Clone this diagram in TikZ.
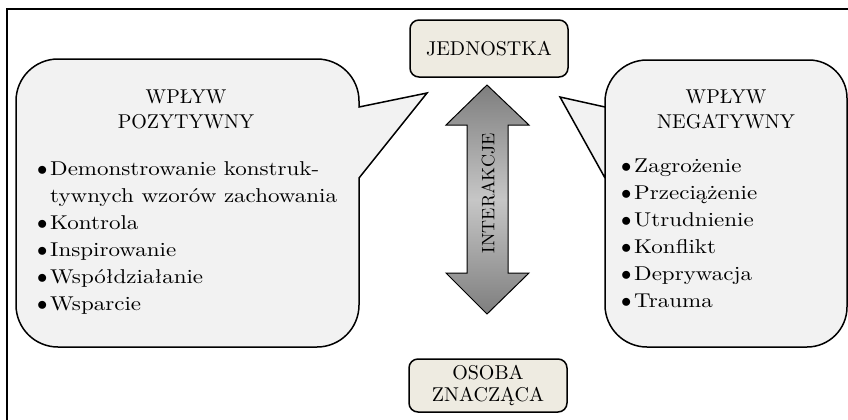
\documentclass[tikz,border=0pt]{standalone}
\usepackage{fontspec}
\newfontfamily\basefont{lmroman10-regular.otf}
\newfontfamily\widefont{lmroman10-regular.otf}[FakeStretch=1.15]
\definecolor{boxfill}{HTML}{EEEBE1}
\definecolor{bubblefill}{HTML}{F2F2F2}
\definecolor{arrowdark}{HTML}{7E7E7E}
\definecolor{arrowlight}{HTML}{C6C6C6}
\newcommand\bulletitem{\makebox[13bp][l]{$\bullet$}}
\tikzset{
  frameline/.style={line width=2bp},
  bubble/.style={draw=black, line width=1.5bp, fill=bubblefill},
  keybox/.style={draw=black, line width=1.5bp, fill=boxfill, rounded corners=9bp,
    minimum width=158bp, align=center, inner sep=0pt,
    font=\basefont\fontsize{20bp}{22bp}\selectfont},
  heading/.style={align=center, inner sep=0pt, font=\basefont\fontsize{20bp}{25bp}\selectfont},
  itemlist/.style={align=left, inner sep=0pt, anchor=north west,
    font=\widefont\fontsize{20bp}{27bp}\selectfont},
  dblarrow/.style={draw=black, line width=1bp, top color=arrowdark,
    bottom color=arrowdark, middle color=arrowlight},
}
\begin{document}
\begin{tikzpicture}[x=1bp,y=1bp]
\useasboundingbox (0,0) rectangle (848,-419);
% open frame
\draw[frameline] (7,-420) -- (7,-9) -- (849,-9);

% left speech bubble
\draw[bubble] (16,-101) -- (16,-305) arc[start angle=180,end angle=270,radius=42]
  -- (317,-347) arc[start angle=270,end angle=360,radius=42]
  -- (359,-178) -- (427,-93) -- (359,-107) -- (359,-101)
  arc[start angle=0,end angle=90,radius=42] -- (58,-59)
  arc[start angle=90,end angle=180,radius=42] -- cycle;

% right speech bubble
\draw[bubble] (605,-101) -- (605,-305) arc[start angle=180,end angle=270,radius=42]
  -- (807,-347) arc[start angle=270,end angle=360,radius=40]
  -- (847,-98) arc[start angle=0,end angle=90,radius=38] -- (647,-60)
  arc[start angle=90,end angle=180,radius=42] -- (605,-102)
  -- (605,-107) -- (560,-97) -- (605,-178) -- cycle;

% double arrow
\draw[dblarrow] (487,-85) -- (529,-125) -- (508,-125) -- (508,-273) -- (529,-273)
  -- (487,-314) -- (446,-273) -- (467,-273) -- (467,-125) -- (446,-125) -- cycle;
\node[rotate=90, inner sep=0pt, font=\basefont\fontsize{18bp}{20bp}\selectfont] (inter) at (488,-193) {INTERAKCJE};

% boxes
\node[keybox, minimum height=57bp] (jed) at (489,-48.5) {JEDNOSTKA};
\node[keybox, minimum height=53bp] (osoba) at (488,-385.5) {OSOBA\\ZNACZĄCA};

% left bubble text
\node[heading] (posh) at (186,-109.5) {WPŁYW\\POZYTYWNY};
\node[itemlist] (posl) at (37,-161) {\bulletitem Demonstrowanie konstruk-\\
\hspace*{13bp}tywnych wzorów zachowania\\
\bulletitem Kontrola\\
\bulletitem Inspirowanie\\
\bulletitem Współdziałanie\\
\bulletitem Wsparcie};

% right bubble text
\node[heading] (negh) at (726,-109.5) {WPŁYW\\NEGATYWNY};
\node[itemlist] (negl) at (621,-159) {\bulletitem Zagrożenie\\
\bulletitem Przeciążenie\\
\bulletitem Utrudnienie\\
\bulletitem Konflikt\\
\bulletitem Deprywacja\\
\bulletitem Trauma};
\end{tikzpicture}
\end{document}
